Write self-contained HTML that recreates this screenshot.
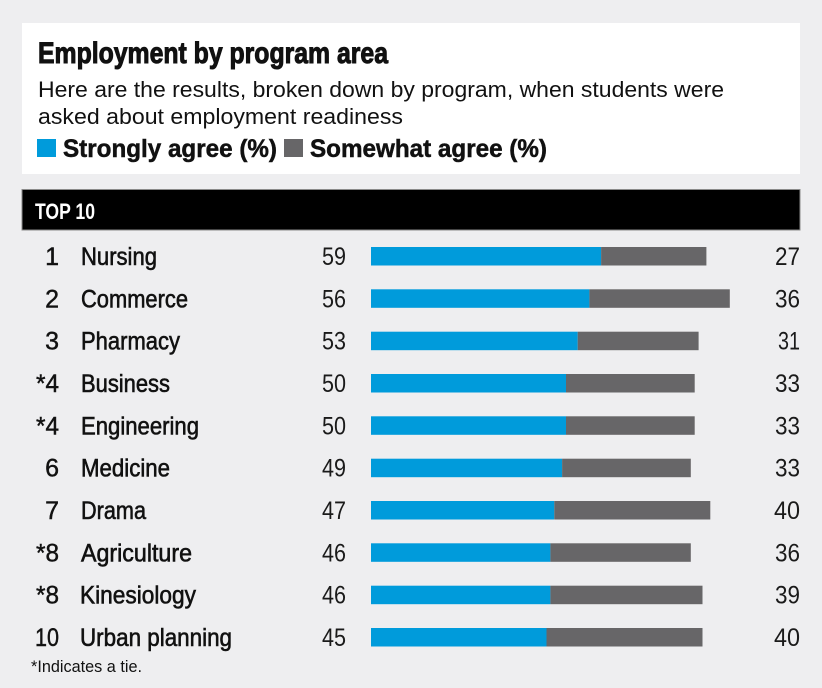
<!DOCTYPE html>
<html>
<head>
<meta charset="utf-8">
<style>
  html, body { margin: 0; padding: 0; background: #eeeef0; }
  svg { display: block; }
  text { font-family: "Liberation Sans", "DejaVu Sans", sans-serif; fill: #111; }
  .name { font-size: 25px; stroke: #111; stroke-width: 0.6px; }
  .rank { font-size: 25px; stroke: #111; stroke-width: 0.45px; text-anchor: end; }
  .val { font-size: 25px; text-anchor: end; fill: #1a1a1a; }
</style>
</head>
<body>
<svg width="822" height="688" viewBox="0 0 822 688" xmlns="http://www.w3.org/2000/svg">
  <rect x="0" y="0" width="822" height="688" fill="#eeeef0"/>
  <!-- header box -->
  <rect x="22" y="23" width="778" height="151" fill="#ffffff"/>
  <text x="38" y="63" font-size="30" font-weight="bold" stroke="#111" stroke-width="1" textLength="350" lengthAdjust="spacingAndGlyphs">Employment by program area</text>
  <text x="38" y="97" font-size="22" textLength="686" lengthAdjust="spacingAndGlyphs">Here are the results, broken down by program, when students were</text>
  <text x="38" y="124" font-size="22" textLength="365" lengthAdjust="spacingAndGlyphs">asked about employment readiness</text>
  <rect x="37" y="139" width="19" height="18" fill="#009bdb"/>
  <text x="63" y="157" font-size="25" font-weight="bold" stroke="#111" stroke-width="0.5" textLength="214" lengthAdjust="spacingAndGlyphs">Strongly agree (%)</text>
  <rect x="284" y="139" width="19" height="18" fill="#676668"/>
  <text x="310" y="157" font-size="25" font-weight="bold" stroke="#111" stroke-width="0.5" textLength="237" lengthAdjust="spacingAndGlyphs">Somewhat agree (%)</text>

  <!-- black bar -->
  <rect x="22" y="189.5" width="778" height="40.5" fill="#000" stroke="#8a8a8a" stroke-width="1"/>
  <text x="35" y="219" font-size="22" font-weight="bold" style="fill:#fff" textLength="60" lengthAdjust="spacingAndGlyphs">TOP 10</text>

  <!-- rows -->
  <g>
    <text class="rank" x="59" y="265">1</text>
    <text class="name" x="81" y="265" textLength="76" lengthAdjust="spacingAndGlyphs">Nursing</text>
    <text class="val" x="346" y="265" textLength="24" lengthAdjust="spacingAndGlyphs">59</text>
    <rect x="371" y="247" width="230.1" height="18.5" fill="#009bdb"/>
    <rect x="601.1" y="247" width="105.3" height="18.5" fill="#676668"/>
    <text class="val" x="800" y="265" textLength="25" lengthAdjust="spacingAndGlyphs">27</text>

    <text class="rank" x="59" y="307.3">2</text>
    <text class="name" x="81" y="307.3" textLength="107" lengthAdjust="spacingAndGlyphs">Commerce</text>
    <text class="val" x="346" y="307.3" textLength="24" lengthAdjust="spacingAndGlyphs">56</text>
    <rect x="371" y="289.3" width="218.4" height="18.5" fill="#009bdb"/>
    <rect x="589.4" y="289.3" width="140.4" height="18.5" fill="#676668"/>
    <text class="val" x="800" y="307.3" textLength="25" lengthAdjust="spacingAndGlyphs">36</text>

    <text class="rank" x="59" y="349.7">3</text>
    <text class="name" x="81" y="349.7" textLength="99" lengthAdjust="spacingAndGlyphs">Pharmacy</text>
    <text class="val" x="346" y="349.7" textLength="24" lengthAdjust="spacingAndGlyphs">53</text>
    <rect x="371" y="331.7" width="206.7" height="18.5" fill="#009bdb"/>
    <rect x="577.7" y="331.7" width="120.9" height="18.5" fill="#676668"/>
    <text class="val" x="800" y="349.7" textLength="22" lengthAdjust="spacingAndGlyphs">31</text>

    <text class="rank" x="59" y="392" textLength="23" lengthAdjust="spacingAndGlyphs">*4</text>
    <text class="name" x="81" y="392" textLength="89" lengthAdjust="spacingAndGlyphs">Business</text>
    <text class="val" x="346" y="392" textLength="24" lengthAdjust="spacingAndGlyphs">50</text>
    <rect x="371" y="374" width="195" height="18.5" fill="#009bdb"/>
    <rect x="566" y="374" width="128.7" height="18.5" fill="#676668"/>
    <text class="val" x="800" y="392" textLength="25" lengthAdjust="spacingAndGlyphs">33</text>

    <text class="rank" x="59" y="434.3" textLength="23" lengthAdjust="spacingAndGlyphs">*4</text>
    <text class="name" x="81" y="434.3" textLength="118" lengthAdjust="spacingAndGlyphs">Engineering</text>
    <text class="val" x="346" y="434.3" textLength="24" lengthAdjust="spacingAndGlyphs">50</text>
    <rect x="371" y="416.3" width="195" height="18.5" fill="#009bdb"/>
    <rect x="566" y="416.3" width="128.7" height="18.5" fill="#676668"/>
    <text class="val" x="800" y="434.3" textLength="25" lengthAdjust="spacingAndGlyphs">33</text>

    <text class="rank" x="59" y="476.7">6</text>
    <text class="name" x="81" y="476.7" textLength="89" lengthAdjust="spacingAndGlyphs">Medicine</text>
    <text class="val" x="346" y="476.7" textLength="24" lengthAdjust="spacingAndGlyphs">49</text>
    <rect x="371" y="458.7" width="191.1" height="18.5" fill="#009bdb"/>
    <rect x="562.1" y="458.7" width="128.7" height="18.5" fill="#676668"/>
    <text class="val" x="800" y="476.7" textLength="25" lengthAdjust="spacingAndGlyphs">33</text>

    <text class="rank" x="59" y="519">7</text>
    <text class="name" x="81" y="519" textLength="65" lengthAdjust="spacingAndGlyphs">Drama</text>
    <text class="val" x="346" y="519" textLength="24" lengthAdjust="spacingAndGlyphs">47</text>
    <rect x="371" y="501" width="183.3" height="18.5" fill="#009bdb"/>
    <rect x="554.3" y="501" width="156" height="18.5" fill="#676668"/>
    <text class="val" x="800" y="519" textLength="26" lengthAdjust="spacingAndGlyphs">40</text>

    <text class="rank" x="59" y="561.3" textLength="23" lengthAdjust="spacingAndGlyphs">*8</text>
    <text class="name" x="81" y="561.3" textLength="111" lengthAdjust="spacingAndGlyphs">Agriculture</text>
    <text class="val" x="346" y="561.3" textLength="24" lengthAdjust="spacingAndGlyphs">46</text>
    <rect x="371" y="543.3" width="179.4" height="18.5" fill="#009bdb"/>
    <rect x="550.4" y="543.3" width="140.4" height="18.5" fill="#676668"/>
    <text class="val" x="800" y="561.3" textLength="25" lengthAdjust="spacingAndGlyphs">36</text>

    <text class="rank" x="59" y="603.7" textLength="23" lengthAdjust="spacingAndGlyphs">*8</text>
    <text class="name" x="80" y="603.7" textLength="116" lengthAdjust="spacingAndGlyphs">Kinesiology</text>
    <text class="val" x="346" y="603.7" textLength="24" lengthAdjust="spacingAndGlyphs">46</text>
    <rect x="371" y="585.7" width="179.4" height="18.5" fill="#009bdb"/>
    <rect x="550.4" y="585.7" width="152.1" height="18.5" fill="#676668"/>
    <text class="val" x="800" y="603.7" textLength="25" lengthAdjust="spacingAndGlyphs">39</text>

    <text class="rank" x="59" y="646" textLength="24" lengthAdjust="spacingAndGlyphs">10</text>
    <text class="name" x="80" y="646" textLength="152" lengthAdjust="spacingAndGlyphs">Urban planning</text>
    <text class="val" x="346" y="646" textLength="24" lengthAdjust="spacingAndGlyphs">45</text>
    <rect x="371" y="628" width="175.5" height="18.5" fill="#009bdb"/>
    <rect x="546.5" y="628" width="156" height="18.5" fill="#676668"/>
    <text class="val" x="800" y="646" textLength="26" lengthAdjust="spacingAndGlyphs">40</text>
  </g>

  <text x="31" y="672" font-size="17" textLength="111" lengthAdjust="spacingAndGlyphs">*Indicates a tie.</text>
</svg>
</body>
</html>
